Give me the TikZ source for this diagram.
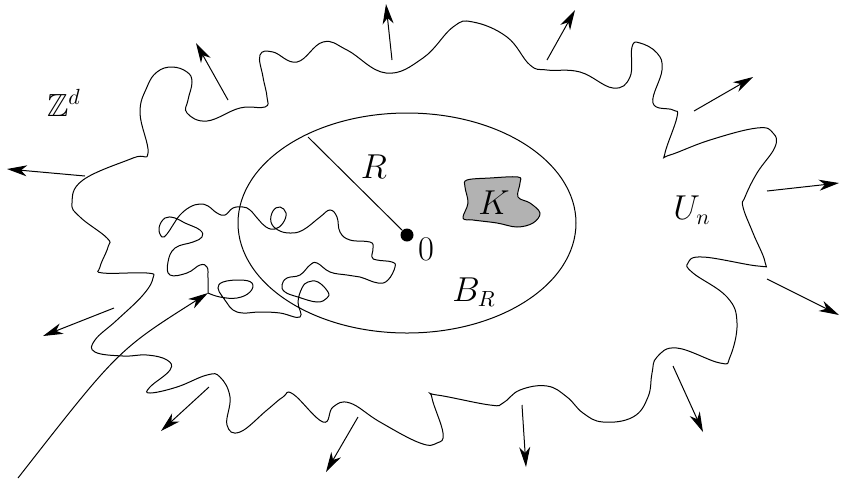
\documentclass[tikz,border=0pt]{standalone}
\usepackage{amssymb}
\usetikzlibrary{arrows.meta}
\tikzset{every picture/.style={line width=0.5pt}}
\tikzset{
  outarrow/.style={-{Stealth[length=10pt,width=5.5pt,inset=3pt]}},
  lab/.style={font=\fontsize{16}{19}\selectfont},
}

\begin{document}
\begin{tikzpicture}[x=0.5pt,y=-0.5pt]
    \useasboundingbox (0,0) rectangle (841,479);
    % boundary of U_n
    \draw plot[smooth cycle, tension=0.7] coordinates {
      (157,72) (172,67) (187,72) (192,82) (188,100) (187,113) (207,121) (240,108) (265,107)
      (267,97) (263,77) (260,55) (273,52) (297,62) (323,42) (347,50) (386,73)
      (423,58) (453,27) (473,22) (507,37) (530,65) (547,70) (580,72) (613,88)
      (630,77) (632,47) (640,43) (657,53) (662,70) (653,103) (673,110) (677,117)
      (665,153) (670,155) (710,140) (757,128) (773,133) (775,147) (757,173)
      (745,197) (743,207) (753,233) (765,262) (758,266) (703,257) (688,263)
      (693,273) (727,297) (737,323) (730,357) (720,363) (677,348) (657,357)
      (652,373) (648,397) (633,417) (603,422) (583,413) (567,397) (547,386)
      (520,390) (503,403) (490,405) (437,395) (432,398) (443,433) (437,443)
      (420,443) (380,422) (350,403) (333,407) (323,422) (293,394) (283,397)
      (267,410) (240,432) (227,425) (230,397) (220,377) (207,375) (177,387)
      (150,393) (150,387) (170,370) (167,360) (147,355) (123,356) (95,352)
      (95,340) (117,320) (143,295) (153,278) (147,273) (103,273) (100,267)
      (108,247) (107,238) (80,217) (72,203) (83,180) (133,158) (148,153)
      (140,113) (147,87)};
    % ball B_R
    \draw (407,223) ellipse [x radius=84.5pt, y radius=55pt];
    \coordinate (rim) at (308,137);
    \node[circle, fill, inner sep=0pt, minimum size=6.5pt] (o) at (407,235) {};
    \draw (o) -- (rim);
    % the set K
    \draw[fill=black!30] plot[smooth cycle, tension=0.6] coordinates {
      (467,180) (490,178) (518,177) (520,183) (518,197) (530,203) (540,213)
      (533,223) (517,227) (497,223) (473,220) (463,218) (468,203) (465,187)};
    % labels
    \node[lab] (zd) at (64,103) {$\mathbb{Z}^d$};
    \node[lab] (rr) at (374,167) {$R$};
    \node[lab] (zero) at (426,249) {$0$};
    \node[lab] (kk) at (494,203) {$K$};
    \node[lab] (br) at (474,292) {$B_R$};
    \node[lab] (un) at (692,210) {$U_n$};
    % incoming path and walk
    \coordinate (far) at (18,478);
    \coordinate (entry) at (208,293);
    \draw[outarrow] (far) .. controls (118,350) .. (entry);
    \draw plot[smooth, tension=0.7] coordinates {
      (208,293) (220,297) (237,298) (250,292) (252,283) (240,280) (223,282)
      (218,288) (222,296) (227,303) (233,310) (243,313) (260,312) (280,313)
      (300,317) (298,302) (302,288) (308,282) (318,282) (328,292) (327,298)
      (317,302) (298,297) (285,292) (282,285) (287,278) (300,275) (310,265)
      (317,263) (330,272) (347,275) (360,277) (378,283) (388,280) (395,267)
      (392,262) (377,260) (372,257) (373,248) (370,242) (350,240) (340,232)
      (337,217) (330,210) (320,217) (303,230) (290,233) (278,230) (271,222)
      (273,211) (280,207) (286,213) (283,223) (275,229) (266,227) (258,219)
      (250,210) (243,207) (233,208) (225,215) (217,213) (208,206) (200,204)
      (190,207) (180,215) (173,225) (167,234) (162,237) (159,228) (165,218)
      (175,218) (185,223) (200,230) (202,237) (193,242) (175,248) (168,262)
      (170,275) (187,273) (200,265) (207,267) (208,278) (208,293)};
    % outward arrows
    \foreach \xa/\ya/\xb/\yb in {85/176/7/169, 228/100/196/43, 392/60/386/4,
      547/60/575/10, 694/111/753/77, 767/191/839/183, 767/279/839/315,
      673/366/703/432, 522/405/526/467, 358/417/326/472, 209/387/161/431,
      114/308/43/336}
      \draw[outarrow] (\xa,\ya) -- (\xb,\yb);
\end{tikzpicture}
\end{document}
